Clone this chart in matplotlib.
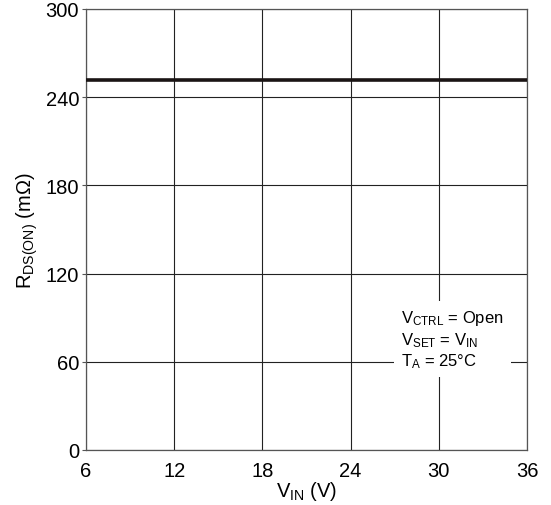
import numpy as np
import matplotlib.pyplot as plt

plt.rcParams['font.family'] = ['Liberation Sans', 'DejaVu Sans']
plt.rcParams['mathtext.fontset'] = 'custom'
plt.rcParams['mathtext.rm'] = 'Liberation Sans'
plt.rcParams['mathtext.it'] = 'Liberation Sans'

# data
v_in = [6, 36]
rds_on = [252, 252]
x_ticks = [6, 12, 18, 24, 30, 36]
y_ticks = [0, 60, 120, 180, 240, 300]

fig = plt.figure(figsize=(5.51, 5.06), dpi=100)
ax = fig.add_axes([86 / 551, 55 / 506, 441 / 551, 441 / 506])

ax.plot(v_in, rds_on, color='#1a1414', lw=2.6, zorder=3)

ax.set_xlim(6, 36)
ax.set_ylim(0, 300)
ax.set_xticks(x_ticks)
ax.set_yticks(y_ticks)
ax.grid(True, color='#222222', lw=0.8)
for s in ax.spines.values():
    s.set_color('#555555')
    s.set_linewidth(0.9)
ax.tick_params(axis='both', labelsize=14.5, length=3, color='#555555', pad=2)
ax.tick_params(axis='x', length=0, pad=8)

ax.set_xlabel(r'V$_{\mathrm{IN}}$ (V)', fontsize=14.5, labelpad=-1)
ax.set_ylabel(r'R$_{\mathrm{DS(ON)}}$ (m$\Omega$)', fontsize=14.5, labelpad=4)

ax.text(27.46, 75.5, 'V$_{\\mathrm{CTRL}}$ = Open\nV$_{\\mathrm{SET}}$ = V$_{\\mathrm{IN}}$\nT$_{\\mathrm{A}}$ = 25°C',
        fontsize=12, va='center', ha='left', linespacing=1.2,
        bbox=dict(facecolor='white', edgecolor='none', pad=5), zorder=4)

fig.savefig('out.png', dpi=100)
